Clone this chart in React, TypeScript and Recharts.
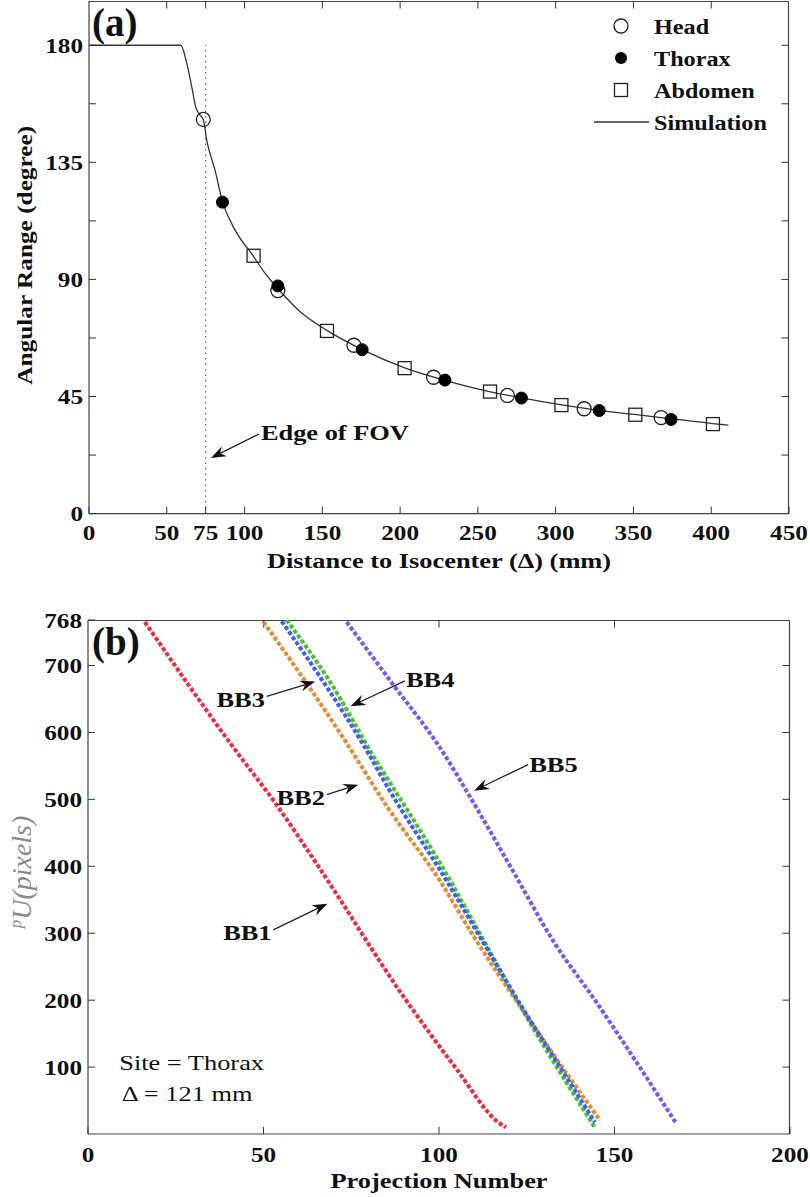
import React from 'react';
import {
  ComposedChart,
  LineChart,
  Line,
  Scatter,
  XAxis,
  YAxis,
  ReferenceLine,
  ReferenceDot,
  Legend,
  Customized,
} from 'recharts';

// ---------------- Panel (a) data ----------------
const simX = [0, 59, 62.8, 66, 68.8, 71, 73.5, 75.6, 81, 85.9, 92.7, 105.8, 113, 121.4, 135, 153, 175, 203, 230, 258, 280, 304, 330, 352, 375, 401, 411];
const simY = [180, 180, 173.2, 164.2, 155.9, 153.5, 151.4, 143.7, 132, 119.7, 110.3, 98.8, 92.5, 86.5, 78, 70.4, 63.2, 56, 51, 46.8, 44.3, 41.8, 39.5, 38, 36.4, 34.6, 34];

const headX = [73.5, 121.4, 170.3, 221.5, 269, 318.3, 367.8];
const headY = [151.5, 85.7, 64.7, 52.4, 45.4, 40.3, 36.9];
const thoraxX = [85.8, 121.4, 175.6, 228.8, 278, 328, 374.2];
const thoraxY = [119.7, 87.5, 63, 51.3, 44.4, 39.6, 36.2];
const abdomenX = [105.8, 153, 202.9, 257.8, 303.7, 351.2, 401.1];
const abdomenY = [99.1, 70.2, 55.9, 46.9, 41.7, 38, 34.4];

const aXMax = 450;
const aYMax = 197;
const aXTicks = [0, 50, 75, 100, 150, 200, 250, 300, 350, 400, 450];
const aYTicks = [0, 22.5, 45, 67.5, 90, 112.5, 135, 157.5, 180];
const aYLabelled = [0, 45, 90, 135, 180];
const aTopTicks = [50, 75, 100, 150, 200, 250, 300, 350, 400];
const aRightTicks = [22.5, 45, 67.5, 90, 112.5, 135, 157.5, 180];
const fovX = 75;

// ---------------- Panel (b) data ----------------
const bb1X = [16.2, 41.5, 53.3, 66.5, 89.8, 105, 116.9, 119.1];
const bb1Y = [765, 577, 495, 393, 206, 97, 17.5, 10];
const bb2X = [50, 61.3, 72.7, 85.5, 100.3, 109.8, 125, 133.5, 145.9];
const bb2Y = [765, 681, 592, 487, 378, 296, 176.5, 112, 20];
const bb3X = [55.2, 67, 78.4, 85.5, 102.2, 109.8, 124, 137.3, 144.4];
const bb3Y = [766, 676, 582, 517, 378, 311, 186.5, 77, 17.5];
const bb4X = [56.6, 68.9, 82.2, 85.2, 102.7, 108.8, 125.9, 144.4];
const bb4Y = [768, 676, 557, 532, 383, 326, 166.6, 10];
const bb5X = [73.7, 87, 100.3, 109.6, 121.5, 132.6, 144.9, 156.3, 167.7];
const bb5Y = [765, 671, 577, 497, 389, 288, 196.5, 107, 15];

const bXMax = 200;
const bYMax = 768;
const bXTicks = [0, 50, 100, 150, 200];
const bYTicks = [100, 200, 300, 400, 500, 600, 700, 768];
const bTopTicks = [50, 100, 150];
const bRightTicks = [100, 200, 300, 400, 500, 600, 700];

const zip = (xs: number[], ys: number[]) => xs.map((x, i) => ({ x, y: ys[i] }));

const simData = zip(simX, simY);
const headData = zip(headX, headY);
const thoraxData = zip(thoraxX, thoraxY);
const abdomenData = zip(abdomenX, abdomenY);

const bSeries = [
  { name: 'BB1', color: '#f0283c', data: zip(bb1X, bb1Y) },
  { name: 'BB2', color: '#e8892e', data: zip(bb2X, bb2Y) },
  { name: 'BB3', color: '#3c5ff0', data: zip(bb3X, bb3Y) },
  { name: 'BB4', color: '#3fc22c', data: zip(bb4X, bb4Y) },
  { name: 'BB5', color: '#7b55f0', data: zip(bb5X, bb5Y) },
];
const bDrawOrder = [0, 1, 3, 2, 4];

// annotation anchors (data coordinates)
const bLabels = [
  { text: 'BB1', x: 52.3, y: 302, anchor: 'end', from: { x: 52.8, y: 305 }, to: { x: 68.2, y: 344 } },
  { text: 'BB2', x: 67.5, y: 504, anchor: 'end', from: { x: 68.0, y: 507 }, to: { x: 77.0, y: 522 } },
  { text: 'BB3', x: 50.4, y: 650, anchor: 'end', from: { x: 50.9, y: 654 }, to: { x: 64.7, y: 676 } },
  { text: 'BB4', x: 90.6, y: 679, anchor: 'start', from: { x: 90.3, y: 677 }, to: { x: 74.8, y: 639 } },
  { text: 'BB5', x: 125.7, y: 552, anchor: 'start', from: { x: 125.4, y: 552 }, to: { x: 110, y: 513 } },
];
const bNotes = [
  { text: 'Site = Thorax', x: 8.9, y: 107 },
  { text: '\u0394 = 121 mm', x: 9.6, y: 61 },
];
const fovLabel = { text: 'Edge of FOV', x: 110.5, y: 31.4, from: { x: 109.3, y: 30.6 }, to: { x: 78.4, y: 21.4 } };

const legendItems = [
  { name: 'Head', kind: 'open-circle' },
  { name: 'Thorax', kind: 'filled-circle' },
  { name: 'Abdomen', kind: 'square' },
  { name: 'Simulation', kind: 'line' },
];

// ---------------- layout ----------------
const W = 810;
const A_H = 580;
const A_MARGIN = { top: 1, right: 21, bottom: 65.4, left: 88 };
const B_H = 617;
const B_MARGIN = { top: 40, right: 20, bottom: 62, left: 87 };
const AXIS_W = 1; // width / height given to each axis

// ---------------- styling helpers ----------------
const FONT = '"Liberation Serif", "Times New Roman", serif';
const SX = 1.2;
const INK = '#111';
const FRAME = '#444';

const StretchText = ({ x, y, anchor = 'middle', size = 21, weight = 'bold', children, sx = SX }: any) => (
  <text
    transform={`translate(${x},${y}) scale(${sx},1)`}
    textAnchor={anchor}
    dy="0.36em"
    fontFamily={FONT}
    fontWeight={weight}
    fontSize={size}
    fill={INK}
  >
    {children}
  </text>
);

const BottomTick = (p: any) => (
  <StretchText x={p.x} y={p.y} anchor="middle">
    {p.payload.value}
  </StretchText>
);
const makeLeftTick = (labelled?: number[]) => (p: any) => {
  const v = p.payload.value;
  if (labelled && !labelled.includes(v)) return <g />;
  return (
    <StretchText x={p.x} y={p.y} anchor="end">
      {v}
    </StretchText>
  );
};

// Box frame (top and right edges with inward ticks) plus the panel tag.
const makeFrame = (
  h: number,
  m: { top: number; right: number; bottom: number; left: number },
  xMax: number,
  yMax: number,
  topTicks: number[],
  rightTicks: number[],
  tag: string,
  tagY: number,
) => () => {
  const left = m.left + AXIS_W;
  const right = W - m.right;
  const top = m.top;
  const bottom = h - m.bottom - AXIS_W;
  const px = (v: number) => left + (v / xMax) * (right - left);
  const py = (v: number) => bottom - (v / yMax) * (bottom - top);
  const rx = right - 0.5;
  const ty = top + 0.5;
  return (
    <g>
      <line x1={left} y1={ty} x2={rx} y2={ty} stroke={FRAME} strokeWidth={1.2} />
      <line x1={rx} y1={ty} x2={rx} y2={bottom} stroke={FRAME} strokeWidth={1.2} />
      {topTicks.map((v) => (
        <line key={'t' + v} x1={px(v)} x2={px(v)} y1={ty} y2={ty + 7} stroke="#333" strokeWidth={1} />
      ))}
      {rightTicks.map((v) => (
        <line key={'r' + v} x1={rx - 7} x2={rx} y1={py(v)} y2={py(v)} stroke="#333" strokeWidth={1} />
      ))}
      <text x={92} y={tagY} fontFamily={FONT} fontWeight="bold" fontSize={39} fill={INK}>
        {tag}
      </text>
    </g>
  );
};

const FrameA = makeFrame(A_H, A_MARGIN, aXMax, aYMax, aTopTicks, aRightTicks, '(a)', 36);
const FrameB = makeFrame(B_H, B_MARGIN, bXMax, bYMax, bTopTicks, bRightTicks, '(b)', 75);

const Arrow = (p: any) => {
  const { x1, y1, x2, y2 } = p;
  const dx = x2 - x1;
  const dy = y2 - y1;
  const L = Math.hypot(dx, dy) || 1;
  const ux = dx / L;
  const uy = dy / L;
  const hl = 15;
  const hw = 5.5;
  const bx = x2 - ux * hl;
  const by = y2 - uy * hl;
  const nx = -uy;
  const ny = ux;
  const mx = x2 - ux * hl * 0.68;
  const my = y2 - uy * hl * 0.68;
  return (
    <g>
      <line x1={x1} y1={y1} x2={mx} y2={my} stroke="#222" strokeWidth={1.3} />
      <polygon
        points={`${x2},${y2} ${bx + nx * hw},${by + ny * hw} ${mx},${my} ${bx - nx * hw},${by - ny * hw}`}
        fill="#111"
      />
    </g>
  );
};

const makeTextShape = (text: string, anchor: string, weight = 'bold', size = 22) => (p: any) => (
  <StretchText x={p.cx} y={p.cy} anchor={anchor} weight={weight} size={size}>
    {text}
  </StretchText>
);

const OpenCircle = (p: any) => <circle cx={p.cx} cy={p.cy} r={7} fill="none" stroke="#222" strokeWidth={1.3} />;
const FilledCircle = (p: any) => <circle cx={p.cx} cy={p.cy} r={6} fill="#000" stroke="#000" />;
const OpenSquare = (p: any) => (
  <rect x={p.cx - 6.5} y={p.cy - 6.5} width={13} height={13} fill="none" stroke="#222" strokeWidth={1.3} />
);

const LegendA = () => (
  <svg width={230} height={140}>
    {legendItems.map((it, i) => {
      const cy = 22 + i * 32;
      let icon: any = null;
      if (it.kind === 'open-circle') icon = <circle cx={46} cy={cy} r={7} fill="none" stroke="#222" strokeWidth={1.3} />;
      if (it.kind === 'filled-circle') icon = <circle cx={46} cy={cy} r={6} fill="#000" />;
      if (it.kind === 'square') icon = <rect x={39.5} y={cy - 6.5} width={13} height={13} fill="none" stroke="#222" strokeWidth={1.3} />;
      if (it.kind === 'line') icon = <line x1={19} x2={74} y1={cy} y2={cy} stroke="#333" strokeWidth={1.3} />;
      return (
        <g key={it.name}>
          {icon}
          <StretchText x={79} y={cy} anchor="start" size={22} sx={1.1}>
            {it.name}
          </StretchText>
        </g>
      );
    })}
  </svg>
);

const XTitle = (text: string) => (p: any) => {
  const vb = p.viewBox || {};
  return (
    <StretchText x={vb.x + vb.width / 2} y={vb.y + 46} anchor="middle" size={22}>
      {text}
    </StretchText>
  );
};
const YTitleA = (p: any) => {
  const vb = p.viewBox || {};
  const cy = vb.y + vb.height / 2 - 2;
  return (
    <text
      transform={`translate(32,${cy}) rotate(-90) scale(1.15,1)`}
      textAnchor="middle"
      fontFamily={FONT}
      fontWeight="bold"
      fontSize={22}
      fill={INK}
    >
      Angular Range (degree)
    </text>
  );
};
const YTitleB = (p: any) => {
  const vb = p.viewBox || {};
  const cy = vb.y + vb.height / 2 - 5;
  return (
    <text
      transform={`translate(31,${cy}) rotate(-90)`}
      textAnchor="middle"
      fontFamily={FONT}
      fontStyle="italic"
      fontSize={28}
      fill="#8a8a8a"
    >
      <tspan fontSize={17} dy={-10}>p</tspan>
      <tspan dy={10}>U(pixels)</tspan>
    </text>
  );
};

const AXIS = { stroke: FRAME, strokeWidth: 1.2 };
const TICKLINE = { stroke: '#333', strokeWidth: 1 };

export default function App() {
  return (
    <div style={{ position: 'absolute', left: 0, top: 0, width: W, height: 1197, background: '#fff', overflow: 'hidden' }}>
      <div style={{ position: 'absolute', left: 0, top: 0 }}>
        <ComposedChart width={W} height={A_H} margin={A_MARGIN}>
          <XAxis
            type="number"
            dataKey="x"
            domain={[0, aXMax]}
            allowDataOverflow
            ticks={aXTicks}
            interval={0}
            height={AXIS_W}
            axisLine={AXIS}
            tickLine={TICKLINE}
            tickSize={-7}
            tickMargin={26}
            tick={BottomTick}
            label={{ content: XTitle('Distance to Isocenter (\u0394) (mm)') }}
          />
          <YAxis
            type="number"
            dataKey="y"
            domain={[0, aYMax]}
            allowDataOverflow
            ticks={aYTicks}
            interval={0}
            width={AXIS_W}
            axisLine={AXIS}
            tickLine={TICKLINE}
            tickSize={-7}
            tickMargin={13}
            tick={makeLeftTick(aYLabelled)}
            label={{ content: YTitleA }}
          />
          <ReferenceLine
            segment={[{ x: fovX, y: 0 }, { x: fovX, y: 180 }]}
            stroke="#666"
            strokeWidth={1.2}
            strokeDasharray="1.5 4"
          />
          <Line
            data={simData}
            dataKey="y"
            type="monotone"
            stroke="#333"
            strokeWidth={1.3}
            dot={false}
            activeDot={false}
            isAnimationActive={false}
          />
          <Scatter data={abdomenData} dataKey="y" shape={OpenSquare} isAnimationActive={false} />
          <Scatter data={headData} dataKey="y" shape={OpenCircle} isAnimationActive={false} />
          <Scatter data={thoraxData} dataKey="y" shape={FilledCircle} isAnimationActive={false} />
          <ReferenceLine segment={[fovLabel.from, fovLabel.to]} stroke="#222" shape={Arrow} ifOverflow="visible" />
          <ReferenceDot
            x={fovLabel.x}
            y={fovLabel.y}
            r={0}
            ifOverflow="visible"
            shape={makeTextShape(fovLabel.text, 'start')}
          />
          <Legend
            layout="horizontal"
            verticalAlign="middle"
            align="center"
            content={LegendA}
            wrapperStyle={{ left: 575, top: 4, width: 230, height: 140 }}
          />
          <Customized component={FrameA} />
        </ComposedChart>
      </div>

      <div style={{ position: 'absolute', left: 0, top: A_H }}>
        <LineChart width={W} height={B_H} margin={B_MARGIN}>
          <XAxis
            type="number"
            dataKey="x"
            domain={[0, bXMax]}
            allowDataOverflow
            ticks={bXTicks}
            interval={0}
            height={AXIS_W}
            axisLine={AXIS}
            tickLine={TICKLINE}
            tickSize={-7}
            tickMargin={27}
            tick={BottomTick}
            label={{ content: XTitle('Projection Number') }}
          />
          <YAxis
            type="number"
            dataKey="y"
            domain={[0, bYMax]}
            allowDataOverflow
            ticks={bYTicks}
            interval={0}
            width={AXIS_W}
            axisLine={AXIS}
            tickLine={TICKLINE}
            tickSize={-7}
            tickMargin={13}
            tick={makeLeftTick()}
            label={{ content: YTitleB }}
          />
          {bDrawOrder.map((i) => {
            const s = bSeries[i];
            return (
              <Line
                key={s.name}
                data={s.data}
                dataKey="y"
                name={s.name}
                type="monotone"
                stroke={s.color}
                strokeWidth={4}
                strokeDasharray="4 2.2"
                dot={false}
                activeDot={false}
                isAnimationActive={false}
              />
            );
          })}
          {bLabels.map((l) => (
            <ReferenceLine key={'a' + l.text} segment={[l.from, l.to]} stroke="#222" shape={Arrow} ifOverflow="visible" />
          ))}
          {bLabels.map((l) => (
            <ReferenceDot
              key={'t' + l.text}
              x={l.x}
              y={l.y}
              r={0}
              ifOverflow="visible"
              shape={makeTextShape(l.text, l.anchor)}
            />
          ))}
          {bNotes.map((n) => (
            <ReferenceDot
              key={n.text}
              x={n.x}
              y={n.y}
              r={0}
              ifOverflow="visible"
              shape={makeTextShape(n.text, 'start', 'normal', 22)}
            />
          ))}
          <Customized component={FrameB} />
        </LineChart>
      </div>
    </div>
  );
}
